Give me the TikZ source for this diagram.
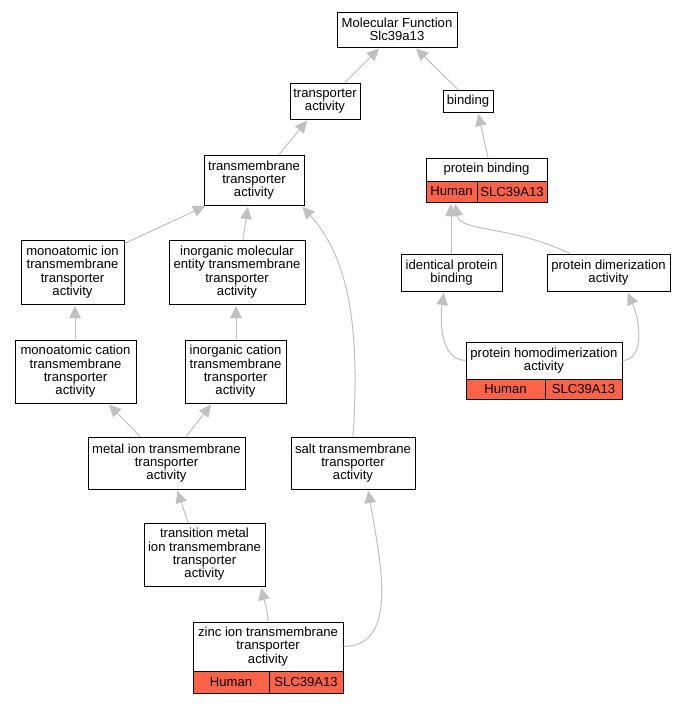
\documentclass[tikz,border=0pt]{standalone}
\usepackage{fontspec}
\setmainfont{Liberation Sans}
\usetikzlibrary{arrows.meta,calc}
\definecolor{edgec}{RGB}{192,192,192}
\definecolor{tomato}{RGB}{255,99,71}
\begin{document}
\begin{tikzpicture}[x=1pt,y=-1pt,
 box/.style={draw=black, line width=1pt, fill=white, align=center, inner sep=0pt, font=\fontsize{13.1}{13.3}\selectfont},
 cell/.style={box, fill=tomato},
 edge/.style={draw=edgec, line width=1pt, shorten >=1.5pt, -{Triangle[length=12pt,width=11.5pt]}}
]
\useasboundingbox (0,0) rectangle (687,704);
% nodes
\node[box, minimum width=120pt, minimum height=35pt] (mf) at (397,29.5) {Molecular Function\\Slc39a13};
\node[box, minimum width=70pt, minimum height=36pt] (ta) at (325,101) {transporter\\activity};
\node[box, minimum width=50pt, minimum height=22pt] (bind) at (468,101) {binding};
\node[box, minimum width=121pt, minimum height=23pt] (pb) at (486.5,169.5) {protein binding};
\node[cell, minimum width=51pt, minimum height=21pt] (pbh) at (451.5,191.5) {Human};
\node[cell, minimum width=70pt, minimum height=21pt] (pbs) at (512,191.5) {SLC39A13};
\node[box, minimum width=100pt, minimum height=50pt] (tm) at (254,180) {transmembrane\\transporter\\activity};
\node[box, minimum width=103pt, minimum height=64pt] (mi) at (72.5,272) {monoatomic ion\\transmembrane\\transporter\\activity};
\node[box, minimum width=136pt, minimum height=64pt] (imol) at (237,272) {inorganic molecular\\entity transmembrane\\transporter\\activity};
\node[box, minimum width=101pt, minimum height=37pt] (ipb) at (451.5,272.5) {identical protein\\binding};
\node[box, minimum width=123pt, minimum height=37pt] (pdim) at (608.5,272.5) {protein dimerization\\activity};
\node[box, minimum width=121pt, minimum height=63pt] (mc) at (75.5,371.5) {monoatomic cation\\transmembrane\\transporter\\activity};
\node[box, minimum width=101pt, minimum height=63pt] (ic) at (235.5,371.5) {inorganic cation\\transmembrane\\transporter\\activity};
\node[box, minimum width=156pt, minimum height=37pt] (homo) at (544,360.5) {protein homodimerization\\activity};
\node[cell, minimum width=79pt, minimum height=20pt] (homoh) at (505.5,389) {Human};
\node[cell, minimum width=77pt, minimum height=20pt] (homos) at (583.5,389) {SLC39A13};
\node[box, minimum width=157pt, minimum height=52pt] (metal) at (166.5,463) {metal ion transmembrane\\transporter\\activity};
\node[box, minimum width=124pt, minimum height=52pt] (salt) at (353,463) {salt transmembrane\\transporter\\activity};
\node[box, minimum width=121pt, minimum height=63pt] (trans) at (204.5,554.5) {transition metal\\ion transmembrane\\transporter\\activity};
\node[box, minimum width=150pt, minimum height=49pt] (zinc) at (268,646.5) {zinc ion transmembrane\\transporter\\activity};
\node[cell, minimum width=76pt, minimum height=22pt] (zinch) at (231,682) {Human};
\node[cell, minimum width=74pt, minimum height=22pt] (zincs) at (306,682) {SLC39A13};
% edges
\draw[edge] ($(ta.north)+(20,0)$) -- ($(mf.south)+(-17,0)$);
\draw[edge] ($(bind.north)+(-10,0)$) -- ($(mf.south)+(18,0)$);
\draw[edge] ($(pb.north)+(1.5,0)$) -- ($(bind.south)+(10,0)$);
\draw[edge] ($(tm.north)+(25,0)$) -- ($(ta.south)+(-17,0)$);
\draw[edge] ($(mi.north east)+(0,4)$) -- ($(tm.south west)+(3,0)$);
\draw[edge] ($(imol.north)+(6,0)$) -- ($(tm.south)+(-6,0)$);
\draw[edge] (salt.north) .. controls (360,330) and (350,260) .. ($(tm.south east)+(-3,0)$);
\draw[edge] ($(mc.north)+(-0.5,0)$) -- ($(mi.south)+(2.5,0)$);
\draw[edge] ($(ic.north)+(0.5,0)$) -- ($(imol.south)+(-1,0)$);
\draw[edge] ($(metal.north)+(-26.5,0)$) -- ($(mc.south)+(32.5,0)$);
\draw[edge] ($(metal.north)+(19.5,0)$) -- ($(ic.south)+(-23.5,0)$);
\draw[edge] ($(trans.north)+(-16.5,0)$) -- ($(metal.south)+(10.5,0)$);
\draw[edge] (zinc.north) .. controls (268,610) and (264,600) .. ($(trans.south)+(56.5,0)$);
\draw[edge] (zinc.east) .. controls (400,646) and (380,560) .. ($(salt.south)+(15,0)$);
\draw[edge] ($(ipb.north)+(-0.5,0)$) -- ($(pbh.south)+(-0.5,0)$);
\draw[edge] ($(pdim.north)+(-38.5,0)$) .. controls (510,225) and (460,232) .. ($(pbh.south)+(3.5,0)$);
\draw[edge] ($(homo.west)+(0,0)$) .. controls (440,360) and (440,320) .. ($(ipb.south)+(-7.5,0)$);
\draw[edge] ($(homo.east)+(0,0)$) .. controls (645,360) and (640,320) .. ($(pdim.south)+(18.5,0)$);
\end{tikzpicture}
\end{document}
